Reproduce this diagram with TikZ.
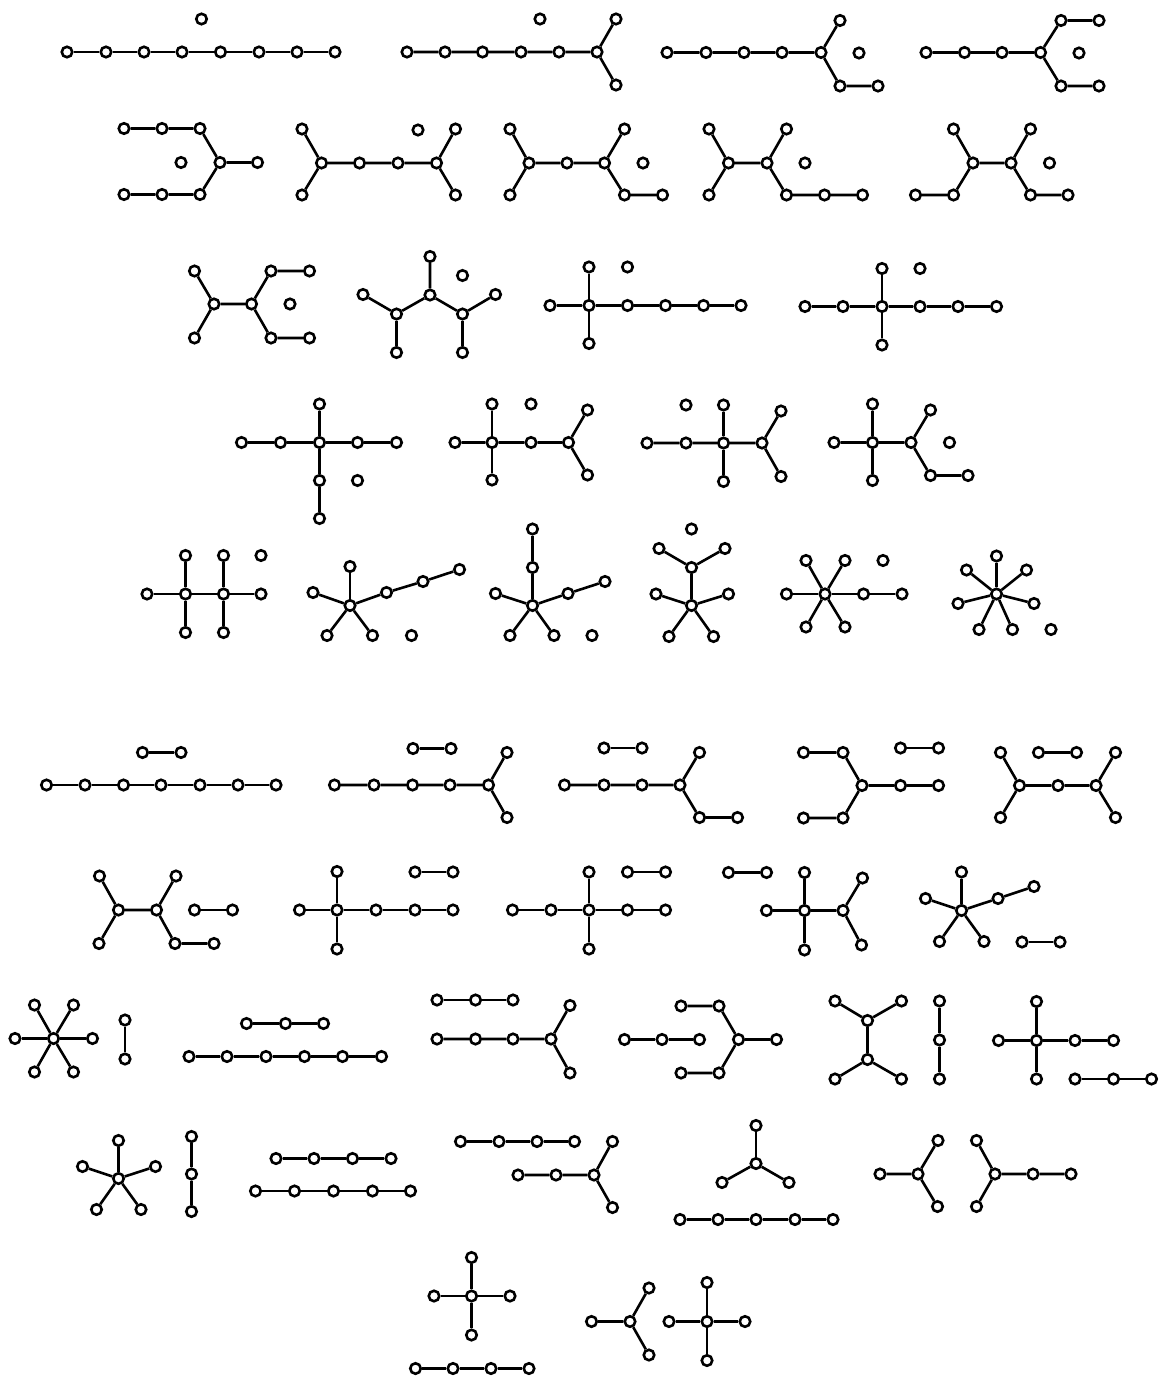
\documentclass[tikz,border=0pt]{standalone}
\begin{document}
\begin{tikzpicture}[x=1pt,y=-1pt,
  vtx/.style={circle,draw=black,fill=white,line width=2.6pt,minimum size=10.5pt,inner sep=0pt},
  edge/.style={line width=2.6pt,black}]
\newcommand{\vx}[2]{\node[vtx] (#1) at (#2) {};}
\fill[white] (0,0) rectangle (1162,1380);
\useasboundingbox (0,0) rectangle (1162,1380);
% ---------- Graph A
\vx{a1}{67,52}\vx{a2}{106,52}\vx{a3}{144,52}\vx{a4}{182,52}\vx{a5}{220.5,52}\vx{a6}{259,52}\vx{a7}{297,52}\vx{a8}{335,52}\vx{a9}{201.5,19}
\draw[edge] (a1)--(a2)--(a3)--(a4)--(a5)--(a6)--(a7)--(a8);
% ---------- Graph B
\vx{b1}{407,52}\vx{b2}{445,52}\vx{b3}{482.5,52}\vx{b4}{521,52}\vx{b5}{559,52}\vx{b6}{597,52}\vx{b7}{616,19}\vx{b8}{616,85}\vx{b9}{540,19}
\draw[edge] (b1)--(b2)--(b3)--(b4)--(b5)--(b6)--(b7); \draw[edge] (b6)--(b8);
% ---------- Graph C
\vx{c1}{667,52.5}\vx{c2}{706,52.5}\vx{c3}{744,52.5}\vx{c4}{782,52.5}\vx{c5}{821,52.5}\vx{c6}{840,20.5}\vx{c7}{840,86}\vx{c8}{878,86}\vx{c9}{859,53}
\draw[edge] (c1)--(c2)--(c3)--(c4)--(c5)--(c6); \draw[edge] (c5)--(c7)--(c8);
% ---------- Graph D
\vx{d1}{926,52.5}\vx{d2}{964.5,52.5}\vx{d3}{1002,52.5}\vx{d4}{1040.5,52.5}\vx{d5}{1061,20.5}\vx{d6}{1099,20.5}\vx{d7}{1061,86}\vx{d8}{1099,86}\vx{d9}{1079,53}
\draw[edge] (d1)--(d2)--(d3)--(d4)--(d5)--(d6); \draw[edge] (d4)--(d7)--(d8);
% ---------- Graph E
\vx{e1}{124,128.5}\vx{e2}{162,128.5}\vx{e3}{200,128.5}\vx{e4}{124,194.5}\vx{e5}{162,194.5}\vx{e6}{200,194.5}\vx{e7}{220,162.5}\vx{e8}{257.5,162.5}\vx{e9}{181,162.5}
\draw[edge] (e1)--(e2)--(e3)--(e7)--(e8); \draw[edge] (e4)--(e5)--(e6)--(e7);
% ---------- Graph F
\vx{f1}{302,129}\vx{f2}{302,195}\vx{f3}{321.5,163}\vx{f4}{359.5,163}\vx{f5}{398,163}\vx{f6}{436.5,163}\vx{f7}{455.5,129}\vx{f8}{455.5,195}\vx{f9}{418,130}
\draw[edge] (f1)--(f3)--(f4)--(f5)--(f6)--(f7); \draw[edge] (f2)--(f3); \draw[edge] (f6)--(f8);
% ---------- Graph G
\vx{g1}{510,129}\vx{g2}{510,195}\vx{g3}{529,163}\vx{g4}{567,163}\vx{g5}{604.5,163}\vx{g6}{624.5,129}\vx{g7}{624.5,195}\vx{g8}{662.5,195}\vx{g9}{643,163}
\draw[edge] (g1)--(g3)--(g4)--(g5)--(g6); \draw[edge] (g2)--(g3); \draw[edge] (g5)--(g7)--(g8);
% ---------- Graph H
\vx{h1}{709,129}\vx{h2}{709,195}\vx{h3}{728.5,163}\vx{h4}{767,163}\vx{h5}{786.5,129}\vx{h6}{786.5,195}\vx{h7}{824.5,195}\vx{h8}{862.5,195}\vx{h9}{805,163}
\draw[edge] (h1)--(h3)--(h4)--(h5); \draw[edge] (h2)--(h3); \draw[edge] (h4)--(h6)--(h7)--(h8);
% ---------- Graph I
\vx{i1}{953.5,129}\vx{i2}{953.5,195}\vx{i3}{915.5,195}\vx{i4}{973,163}\vx{i5}{1011,163}\vx{i6}{1030.5,129}\vx{i7}{1030.5,195}\vx{i8}{1068,195}\vx{i9}{1049.5,163}
\draw[edge] (i1)--(i4)--(i5)--(i6); \draw[edge] (i3)--(i2)--(i4); \draw[edge] (i5)--(i7)--(i8);
% ---------- Graph J
\vx{j1}{194.5,271}\vx{j2}{194.5,338}\vx{j3}{214,304}\vx{j4}{251.5,304}\vx{j5}{271,271}\vx{j6}{309.5,271}\vx{j7}{271,338}\vx{j8}{309.5,338}\vx{j9}{290,304}
\draw[edge] (j1)--(j3)--(j4)--(j5)--(j6); \draw[edge] (j2)--(j3); \draw[edge] (j4)--(j7)--(j8);
% ---------- Graph K
\vx{k1}{430,256.5}\vx{k2}{430,295}\vx{k3}{396.5,314}\vx{k4}{363,294.5}\vx{k5}{396.5,352.5}\vx{k6}{462.5,314}\vx{k7}{495.5,294.5}\vx{k8}{462.5,352.5}\vx{k9}{462.5,275.5}
\draw[edge] (k1)--(k2)--(k3)--(k4); \draw[edge] (k3)--(k5); \draw[edge] (k2)--(k6)--(k7); \draw[edge] (k6)--(k8);
% ---------- Graph L
\vx{l1}{550,305.5}\vx{l2}{589,305.5}\vx{l3}{589,267}\vx{l4}{589,343.5}\vx{l5}{627.5,305.5}\vx{l6}{665.5,305.5}\vx{l7}{703.5,305.5}\vx{l8}{741,305.5}\vx{l9}{627.5,267}
\draw[edge] (l1)--(l2)--(l5)--(l6)--(l7)--(l8); \draw[edge] (l3)--(l2)--(l4);
% ---------- Graph M
\vx{m1}{805,306.5}\vx{m2}{843,306.5}\vx{m3}{882,306.5}\vx{m4}{882,268.5}\vx{m5}{882,345}\vx{m6}{920,306.5}\vx{m7}{958,306.5}\vx{m8}{996.5,306.5}\vx{m9}{920,268.5}
\draw[edge] (m1)--(m2)--(m3)--(m6)--(m7)--(m8); \draw[edge] (m4)--(m3)--(m5);
% ---------- Graph N
\vx{n1}{241.5,442.5}\vx{n2}{280.5,442.5}\vx{n3}{319.5,442.5}\vx{n4}{319.5,404}\vx{n5}{357.5,442.5}\vx{n6}{396.5,442.5}\vx{n7}{319.5,480.5}\vx{n8}{319.5,518.5}\vx{n9}{357.5,480.5}
\draw[edge] (n1)--(n2)--(n3)--(n5)--(n6); \draw[edge] (n4)--(n3)--(n7)--(n8);
% ---------- Graph O
\vx{o1}{455,442.5}\vx{o2}{492,442.5}\vx{o3}{492,404}\vx{o4}{492,480}\vx{o5}{531,442.5}\vx{o6}{568.5,442.5}\vx{o7}{587.5,410}\vx{o8}{587.5,475}\vx{o9}{531,404}
\draw[edge] (o1)--(o2)--(o5)--(o6)--(o7); \draw[edge] (o3)--(o2)--(o4); \draw[edge] (o6)--(o8);
% ---------- Graph P
\vx{p1}{647,443}\vx{p2}{686,443}\vx{p3}{723.5,443}\vx{p4}{723.5,405}\vx{p5}{723.5,481.5}\vx{p6}{762,443}\vx{p7}{781,411}\vx{p8}{781,476.5}\vx{p9}{686,405}
\draw[edge] (p1)--(p2)--(p3)--(p6)--(p7); \draw[edge] (p4)--(p3)--(p5); \draw[edge] (p6)--(p8);
% ---------- Graph Q
\vx{q1}{834,442.5}\vx{q2}{872.5,442.5}\vx{q3}{872.5,404}\vx{q4}{872.5,480.5}\vx{q5}{911,442.5}\vx{q6}{930.5,410}\vx{q7}{930.5,475.5}\vx{q8}{968,475.5}\vx{q9}{949.5,442.5}
\draw[edge] (q1)--(q2)--(q5)--(q6); \draw[edge] (q3)--(q2)--(q4); \draw[edge] (q5)--(q7)--(q8);
% ---------- Graph R
\vx{r1}{147,594}\vx{r2}{185.5,594}\vx{r3}{223.5,594}\vx{r4}{261,594}\vx{r5}{185.5,555.5}\vx{r6}{223.5,555.5}\vx{r7}{185.5,632.5}\vx{r8}{223.5,632.5}\vx{r9}{261,555.5}
\draw[edge] (r1)--(r2)--(r3)--(r4); \draw[edge] (r5)--(r2)--(r7); \draw[edge] (r6)--(r3)--(r8);
% ---------- Graph S
\vx{s1}{350,605.5}\vx{s2}{350,566.5}\vx{s3}{313,592.5}\vx{s4}{327,635.5}\vx{s5}{372.5,635.5}\vx{s6}{386.5,592.5}\vx{s7}{423,581.5}\vx{s8}{459.5,569.5}\vx{s9}{411.5,635.5}
\draw[edge] (s1)--(s2); \draw[edge] (s1)--(s3); \draw[edge] (s1)--(s4); \draw[edge] (s1)--(s5); \draw[edge] (s1)--(s6)--(s7)--(s8);
% ---------- Graph T
\vx{t1}{532.5,605.5}\vx{t2}{532.5,567.5}\vx{t3}{532.5,529}\vx{t4}{495.5,593.5}\vx{t5}{510,635.5}\vx{t6}{554,635.5}\vx{t7}{568,593.5}\vx{t8}{605,581.5}\vx{t9}{592,635.5}
\draw[edge] (t1)--(t2)--(t3); \draw[edge] (t1)--(t4); \draw[edge] (t1)--(t5); \draw[edge] (t1)--(t6); \draw[edge] (t1)--(t7)--(t8);
% ---------- Graph U
\vx{u1}{691.5,605.5}\vx{u2}{691.5,567.5}\vx{u3}{659,548.5}\vx{u4}{725,548.5}\vx{u5}{656,594}\vx{u6}{728.5,594}\vx{u7}{669,636.5}\vx{u8}{713.5,636.5}\vx{u9}{691.5,529}
\draw[edge] (u3)--(u2)--(u4); \draw[edge] (u2)--(u1); \draw[edge] (u1)--(u5); \draw[edge] (u1)--(u6); \draw[edge] (u1)--(u7); \draw[edge] (u1)--(u8);
% ---------- Graph V
\vx{v1}{825,594}\vx{v2}{786.5,594}\vx{v3}{806,560.5}\vx{v4}{845,560.5}\vx{v5}{806,627}\vx{v6}{845,627}\vx{v7}{863.5,594}\vx{v8}{902,594}\vx{v9}{883,560.5}
\draw[edge] (v1)--(v2); \draw[edge] (v1)--(v3); \draw[edge] (v1)--(v4); \draw[edge] (v1)--(v5); \draw[edge] (v1)--(v6); \draw[edge] (v1)--(v7)--(v8);
% ---------- Graph W
\vx{w1}{996.5,594}\vx{w2}{996.5,556}\vx{w3}{966.5,570}\vx{w4}{1026.5,570}\vx{w5}{958,603.5}\vx{w6}{1034,603.5}\vx{w7}{979,629.5}\vx{w8}{1012.5,629.5}\vx{w9}{1051,629.5}
\foreach \k in {w2,w3,w4,w5,w6,w7,w8} {\draw[edge] (w1)--(\k);}
% ================= lower half
% ---------- Graph X
\vx{x1}{46.5,785}\vx{x2}{85,785}\vx{x3}{123.5,785}\vx{x4}{161,785}\vx{x5}{200,785}\vx{x6}{238,785}\vx{x7}{276,785}\vx{x8}{142.5,752.5}\vx{x9}{181,752.5}
\draw[edge] (x1)--(x2)--(x3)--(x4)--(x5)--(x6)--(x7); \draw[edge] (x8)--(x9);
% ---------- Graph Y
\vx{y1}{334.5,785}\vx{y2}{374,785}\vx{y3}{412.5,785}\vx{y4}{450,785}\vx{y5}{488.5,785}\vx{y6}{507,752.5}\vx{y7}{507,817.5}\vx{y8}{413,748.5}\vx{y9}{451,748.5}
\draw[edge] (y1)--(y2)--(y3)--(y4)--(y5)--(y6); \draw[edge] (y5)--(y7); \draw[edge] (y8)--(y9);
% ---------- Graph Z
\vx{z1}{564.5,785}\vx{z2}{604,785}\vx{z3}{642,785}\vx{z4}{680,785}\vx{z5}{699.5,752.5}\vx{z6}{699.5,817.5}\vx{z7}{737.5,817.5}\vx{z8}{604,748}\vx{z9}{642,748}
\draw[edge] (z1)--(z2)--(z3)--(z4)--(z5); \draw[edge] (z4)--(z6)--(z7); \draw[edge] (z8)--(z9);
% ---------- Graph AA
\vx{aa1}{803.5,752.5}\vx{aa2}{843,752.5}\vx{aa3}{862,785.5}\vx{aa4}{803.5,818}\vx{aa5}{843,818}\vx{aa6}{900.5,785.5}\vx{aa7}{938.5,785.5}\vx{aa8}{900.5,748}\vx{aa9}{938.5,748}
\draw[edge] (aa1)--(aa2)--(aa3)--(aa6)--(aa7); \draw[edge] (aa4)--(aa5)--(aa3); \draw[edge] (aa8)--(aa9);
% ---------- Graph AB
\vx{ab1}{1000.5,752.5}\vx{ab2}{1019.5,785.5}\vx{ab3}{1000.5,817.5}\vx{ab4}{1058,785.5}\vx{ab5}{1096,785.5}\vx{ab6}{1115.5,752.5}\vx{ab7}{1115.5,817.5}\vx{ab8}{1038.5,752.5}\vx{ab9}{1076.5,752.5}
\draw[edge] (ab1)--(ab2)--(ab4)--(ab5)--(ab6); \draw[edge] (ab3)--(ab2); \draw[edge] (ab5)--(ab7); \draw[edge] (ab8)--(ab9);
% ---------- Graph AC
\vx{ac1}{99.5,876}\vx{ac2}{118.5,910}\vx{ac3}{156.5,910}\vx{ac4}{176,876}\vx{ac5}{99,943.5}\vx{ac6}{175,943.5}\vx{ac7}{214,943.5}\vx{ac8}{194.5,910}\vx{ac9}{232.5,910}
\draw[edge] (ac1)--(ac2)--(ac3)--(ac4); \draw[edge] (ac5)--(ac2); \draw[edge] (ac3)--(ac6)--(ac7); \draw[edge] (ac8)--(ac9);
% ---------- Graph AD
\vx{ad1}{299.5,910}\vx{ad2}{337,910}\vx{ad3}{337,871.5}\vx{ad4}{337,949}\vx{ad5}{376,910}\vx{ad6}{415,910}\vx{ad7}{453,910}\vx{ad8}{415,872}\vx{ad9}{453,872}
\draw[edge] (ad1)--(ad2)--(ad5)--(ad6)--(ad7); \draw[edge] (ad3)--(ad2)--(ad4); \draw[edge] (ad8)--(ad9);
% ---------- Graph AE
\vx{ae1}{512.5,910}\vx{ae2}{551,910}\vx{ae3}{589,910}\vx{ae4}{589,872}\vx{ae5}{589,949}\vx{ae6}{627.5,910}\vx{ae7}{665.5,910}\vx{ae8}{627.5,872}\vx{ae9}{665.5,872}
\draw[edge] (ae1)--(ae2)--(ae3)--(ae6)--(ae7); \draw[edge] (ae4)--(ae3)--(ae5); \draw[edge] (ae8)--(ae9);
% ---------- Graph AF
\vx{af1}{728.5,872.5}\vx{af2}{766.5,872.5}\vx{af3}{766.5,910.5}\vx{af4}{804.5,910.5}\vx{af5}{804.5,872.5}\vx{af6}{804.5,950}\vx{af7}{843,910.5}\vx{af8}{862.5,878}\vx{af9}{861.5,945}
\draw[edge] (af1)--(af2); \draw[edge] (af3)--(af4)--(af7)--(af8); \draw[edge] (af5)--(af4)--(af6); \draw[edge] (af7)--(af9);
% ---------- Graph AG
\vx{ag1}{961.5,910.5}\vx{ag2}{961.5,872}\vx{ag3}{925.5,898.5}\vx{ag4}{998,898.5}\vx{ag5}{1034,886.5}\vx{ag6}{939.5,941.5}\vx{ag7}{984,941.5}\vx{ag8}{1022,942}\vx{ag9}{1060,942}
\draw[edge] (ag1)--(ag2); \draw[edge] (ag1)--(ag3); \draw[edge] (ag1)--(ag4)--(ag5); \draw[edge] (ag1)--(ag6); \draw[edge] (ag1)--(ag7); \draw[edge] (ag8)--(ag9);
% ---------- Graph AH
\vx{ah1}{53.5,1038.5}\vx{ah2}{34.5,1005}\vx{ah3}{73.5,1005}\vx{ah4}{15,1038.5}\vx{ah5}{92.5,1038.5}\vx{ah6}{34.5,1072}\vx{ah7}{73.5,1072}
\foreach \k in {ah2,ah3,ah4,ah5,ah6,ah7} {\draw[edge] (ah1)--(\k);}
% ---------- Graph AI
\vx{ai1}{125,1020}\vx{ai2}{125,1059}
\draw[edge] (ai1)--(ai2);
% ---------- Graph AJ
\vx{aj1}{189,1056.5}\vx{aj2}{227,1056.5}\vx{aj3}{266,1056.5}\vx{aj4}{304.5,1056.5}\vx{aj5}{342.5,1056.5}\vx{aj6}{381.5,1056.5}\vx{aj7}{246.5,1023.5}\vx{aj8}{285.5,1023.5}\vx{aj9}{323.5,1023.5}
\draw[edge] (aj1)--(aj2)--(aj3)--(aj4)--(aj5)--(aj6); \draw[edge] (aj7)--(aj8)--(aj9);
% ---------- Graph AK
\vx{ak1}{437,1000}\vx{ak2}{475.5,1000}\vx{ak3}{513,1000}\vx{ak4}{437,1039}\vx{ak5}{475.5,1039}\vx{ak6}{513,1039}\vx{ak7}{551,1039}\vx{ak8}{570,1005.5}\vx{ak9}{570,1073}
\draw[edge] (ak1)--(ak2)--(ak3); \draw[edge] (ak4)--(ak5)--(ak6)--(ak7)--(ak8); \draw[edge] (ak7)--(ak9);
% ---------- Graph AL
\vx{al1}{624.5,1039.5}\vx{al2}{662,1039.5}\vx{al3}{699.5,1039.5}\vx{al4}{681,1006}\vx{al5}{719,1006}\vx{al6}{738.5,1039.5}\vx{al7}{776.5,1039.5}\vx{al8}{681,1073}\vx{al9}{719,1073}
\draw[edge] (al1)--(al2)--(al3); \draw[edge] (al4)--(al5)--(al6)--(al7); \draw[edge] (al8)--(al9)--(al6);
% ---------- Graph AM
\vx{am1}{835,1001}\vx{am2}{901.5,1001}\vx{am3}{867.5,1020.5}\vx{am4}{867.5,1059.5}\vx{am5}{835,1079}\vx{am6}{901.5,1079}
\draw[edge] (am1)--(am3)--(am2); \draw[edge] (am3)--(am4); \draw[edge] (am5)--(am4)--(am6);
% ---------- Graph AN
\vx{an1}{939.5,1001}\vx{an2}{939.5,1040}\vx{an3}{939.5,1079}
\draw[edge] (an1)--(an2)--(an3);
% ---------- Graph AO
\vx{ao1}{1036.5,1040.5}\vx{ao2}{1036.5,1001.5}\vx{ao3}{1036.5,1079}\vx{ao4}{998.5,1040.5}\vx{ao5}{1075,1040.5}\vx{ao6}{1113.5,1040.5}\vx{ao7}{1075,1079}\vx{ao8}{1113.5,1079}\vx{ao9}{1151.5,1079}
\draw[edge] (ao2)--(ao1)--(ao3); \draw[edge] (ao4)--(ao1)--(ao5)--(ao6); \draw[edge] (ao7)--(ao8)--(ao9);
% ---------- Graph AP
\vx{ap1}{118.5,1178.5}\vx{ap2}{118.5,1140.5}\vx{ap3}{82.5,1166.5}\vx{ap4}{155.5,1166.5}\vx{ap5}{96.5,1209.5}\vx{ap6}{141,1209.5}
\foreach \k in {ap2,ap3,ap4,ap5,ap6} {\draw[edge] (ap1)--(\k);}
% ---------- Graph AQ
\vx{aq1}{191.5,1136.5}\vx{aq2}{191.5,1174}\vx{aq3}{191.5,1211.5}
\draw[edge] (aq1)--(aq2)--(aq3);
% ---------- Graph AR
\vx{ar1}{276,1158.5}\vx{ar2}{314,1158.5}\vx{ar3}{352.5,1158.5}\vx{ar4}{391,1158.5}\vx{ar5}{255.5,1191}\vx{ar6}{294.5,1191}\vx{ar7}{333.5,1191}\vx{ar8}{372.5,1191}\vx{ar9}{410.5,1191}
\draw[edge] (ar1)--(ar2)--(ar3)--(ar4); \draw[edge] (ar5)--(ar6)--(ar7)--(ar8)--(ar9);
% ---------- Graph AS
\vx{as1}{460.5,1141.5}\vx{as2}{499,1141.5}\vx{as3}{537,1141.5}\vx{as4}{574.5,1141.5}\vx{as5}{518,1175}\vx{as6}{556,1175}\vx{as7}{594,1175}\vx{as8}{612.5,1141.5}\vx{as9}{612.5,1207.5}
\draw[edge] (as1)--(as2)--(as3)--(as4); \draw[edge] (as5)--(as6)--(as7)--(as8); \draw[edge] (as7)--(as9);
% ---------- Graph AT
\vx{at1}{756,1163.5}\vx{at2}{756,1125.5}\vx{at3}{722,1182.5}\vx{at4}{789,1182.5}\vx{at5}{680,1219.5}\vx{at6}{718,1219.5}\vx{at7}{756,1219.5}\vx{at8}{795,1219.5}\vx{at9}{833,1219.5}
\draw[edge] (at2)--(at1); \draw[edge] (at3)--(at1)--(at4); \draw[edge] (at5)--(at6)--(at7)--(at8)--(at9);
% ---------- Graph AU
\vx{au1}{880,1174}\vx{au2}{918,1174}\vx{au3}{938,1140.5}\vx{au4}{937.5,1206.5}
\draw[edge] (au1)--(au2)--(au3); \draw[edge] (au2)--(au4);
% ---------- Graph AV
\vx{av1}{976.5,1140.5}\vx{av2}{995,1174}\vx{av3}{976.5,1206.5}\vx{av4}{1033,1174}\vx{av5}{1071,1174}
\draw[edge] (av1)--(av2)--(av4)--(av5); \draw[edge] (av3)--(av2);
% ---------- Graph AW
\vx{aw1}{471.5,1296}\vx{aw2}{471.5,1257.5}\vx{aw3}{471.5,1335}\vx{aw4}{434,1296}\vx{aw5}{510,1296}\vx{aw6}{415.5,1368.5}\vx{aw7}{453,1368.5}\vx{aw8}{491,1368.5}\vx{aw9}{529,1368.5}
\draw[edge] (aw2)--(aw1)--(aw3); \draw[edge] (aw4)--(aw1)--(aw5); \draw[edge] (aw6)--(aw7)--(aw8)--(aw9);
% ---------- Graph AX
\vx{ax1}{591.5,1321.5}\vx{ax2}{630,1321.5}\vx{ax3}{649,1288}\vx{ax4}{649,1355}
\draw[edge] (ax1)--(ax2)--(ax3); \draw[edge] (ax2)--(ax4);
% ---------- Graph AY
\vx{ay1}{707,1321.5}\vx{ay2}{707,1282.5}\vx{ay3}{707,1360.5}\vx{ay4}{669,1321.5}\vx{ay5}{745,1321.5}
\draw[edge] (ay2)--(ay1)--(ay3); \draw[edge] (ay4)--(ay1)--(ay5);
\end{tikzpicture}
\end{document}
